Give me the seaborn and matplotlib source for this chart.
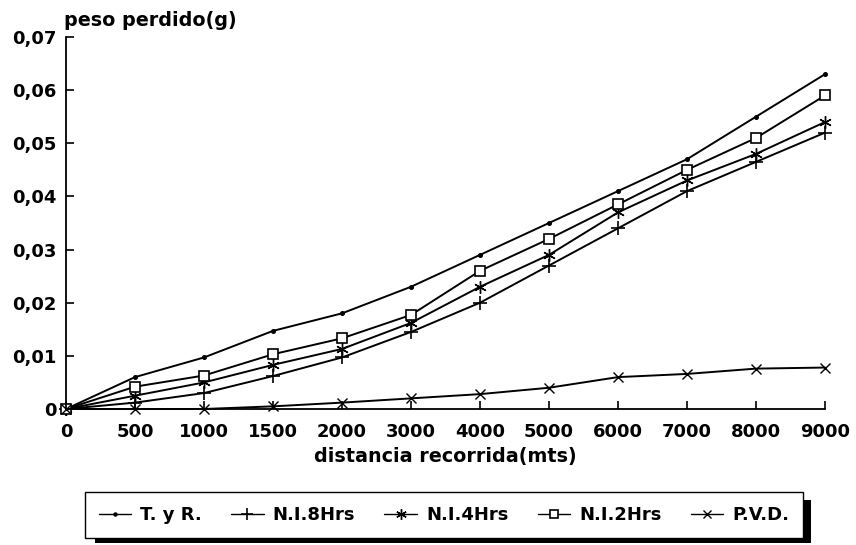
import matplotlib
matplotlib.use("Agg")
import matplotlib.pyplot as plt
import seaborn as sns
import numpy as np
import pandas as pd
from matplotlib.ticker import FuncFormatter
from matplotlib.patches import Rectangle
from matplotlib.lines import Line2D

categories = ["0", "500", "1000", "1500", "2000", "3000", "4000",
              "5000", "6000", "7000", "8000", "9000"]
tyr = [0, 0.006, 0.0097, 0.0147, 0.018, 0.023, 0.029, 0.035, 0.041, 0.047, 0.055, 0.063]
ni8 = [0, 0.0012, 0.003, 0.0062, 0.0097, 0.0145, 0.020, 0.027, 0.034, 0.041, 0.0465, 0.052]
ni4 = [0, 0.0025, 0.005, 0.0083, 0.0113, 0.0162, 0.023, 0.029, 0.037, 0.043, 0.048, 0.054]
ni2 = [0, 0.0042, 0.0063, 0.0103, 0.0133, 0.0177, 0.026, 0.032, 0.0385, 0.045, 0.051, 0.059]
pvd = [0, 0, 0, 0.0005, 0.0012, 0.002, 0.0028, 0.004, 0.006, 0.0066, 0.0076, 0.0078]
series_names = ["T. y R.", "N.I.8Hrs", "N.I.4Hrs", "N.I.2Hrs", "P.V.D."]
yticks = [0, 0.01, 0.02, 0.03, 0.04, 0.05, 0.06, 0.07]

sns.set_style("ticks")
plt.rcParams['font.family'] = ['DejaVu Sans']
plt.rcParams['font.weight'] = 'bold'
plt.rcParams['text.color'] = 'black'
plt.rcParams['axes.labelcolor'] = 'black'

W, H = 856, 545
fig = plt.figure(figsize=(W/100, H/100), dpi=100)
ax = fig.add_axes([66/W, 1-409/H, (825-66)/W, (409-37)/H])

pos = np.arange(len(categories))
styles = [
    dict(marker='o', markersize=2.6, mfc='k', mew=1.0),
    dict(marker='+', markersize=10, mew=1.2),
    dict(marker=(6, 2, 0), markersize=9, mew=1.0),
    dict(marker='s', markersize=7.5, mfc='white', mew=1.2),
    dict(marker='x', markersize=7.5, mew=1.0),
]
for name, vals, st in zip(series_names, [tyr, ni8, ni4, ni2, pvd], styles):
    df = pd.DataFrame({"x": pos, "y": vals})
    sns.lineplot(data=df, x="x", y="y", ax=ax, color='k', lw=1.4,
                 mec='k', clip_on=False, legend=False, **st)

ax.set_xlim(0, 11)
ax.set_ylim(0, 0.07)
ax.set_xticks(pos)
ax.set_xticklabels(categories)
ax.set_yticks(yticks)
ax.yaxis.set_major_formatter(FuncFormatter(
    lambda v, p: "0" if abs(v) < 1e-9 else f"{v:.2f}".replace(".", ",")))
for s in ["top", "right"]:
    ax.spines[s].set_visible(False)
for s in ["left", "bottom"]:
    ax.spines[s].set_color('k')
    ax.spines[s].set_linewidth(1.3)
ax.tick_params(direction='in', length=6, width=1.2, colors='k', labelsize=13)
ax.tick_params(axis='x', pad=10)
ax.tick_params(axis='y', pad=7)
for lab in ax.get_xticklabels() + ax.get_yticklabels():
    lab.set_fontweight('bold')
ax.set_xlabel("distancia recorrida(mts)", fontsize=13.8, fontweight='bold', color='k')
ax.xaxis.set_label_coords(0.5, -(447-409)/(409-37))
ax.set_ylabel("")
fig.text(64/W, 1-20/H, "peso perdido(g)", fontsize=13.8, fontweight='bold',
         ha='left', va='center', color='k')

handles = []
for st in styles:
    d = dict(st)
    d['markersize'] = d['markersize'] * 0.85
    handles.append(Line2D([], [], color='k', lw=1.0, mec='k', **d))
leg = fig.legend(handles, series_names, loc='center',
                 bbox_to_anchor=(85/W, 1-540/H, (803-85)/W, (540-490)/H),
                 mode='expand', ncol=5, frameon=True, fancybox=False, framealpha=1,
                 edgecolor='k', fontsize=13, handlelength=1.8,
                 borderpad=0.75, handletextpad=0.5, borderaxespad=0)
leg.get_frame().set_linewidth(1.0)
leg.set_zorder(5)
for t in leg.get_texts():
    t.set_fontweight('bold')
    t.set_color('k')
fig.patches.append(Rectangle((95/W, 1-543/H), (811-95)/W, (543-500)/H,
                             transform=fig.transFigure, facecolor='k',
                             edgecolor='none', zorder=1))

fig.savefig("out.png", dpi=100)
